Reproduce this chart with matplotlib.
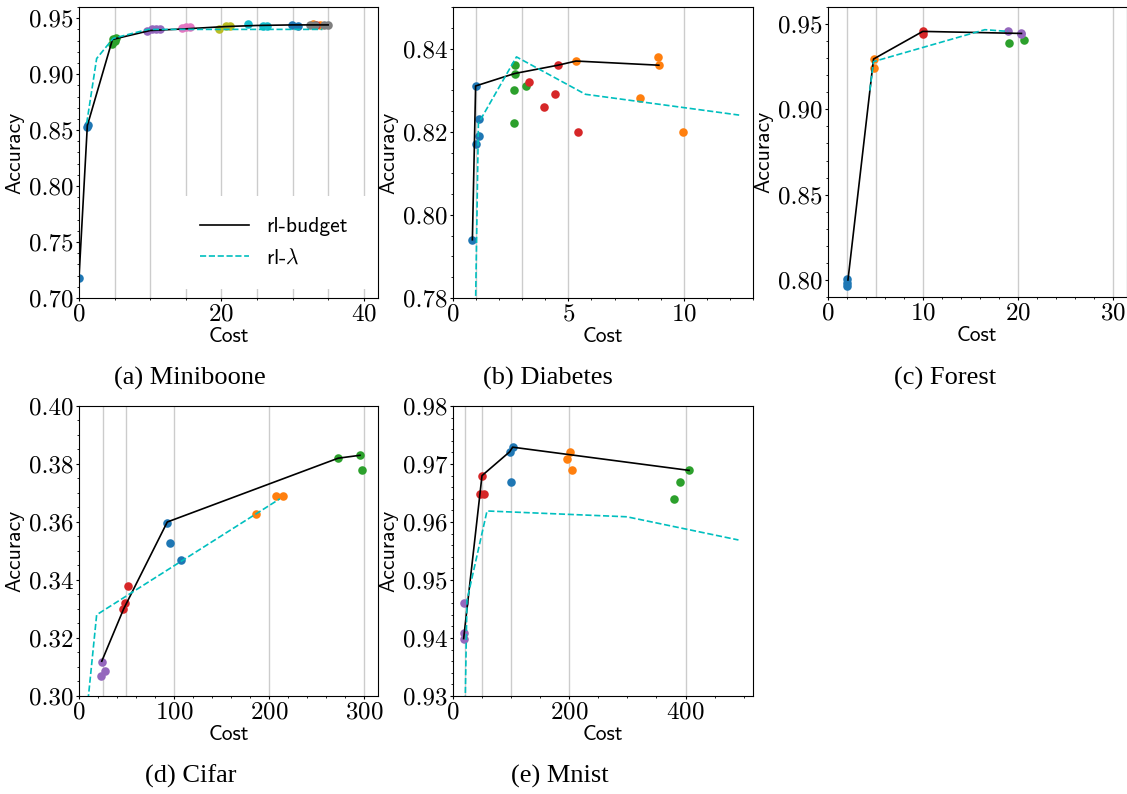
import numpy as np
import matplotlib
matplotlib.use("Agg")
import matplotlib.pyplot as plt
from matplotlib.ticker import MultipleLocator, AutoMinorLocator, FormatStrFormatter

plt.rcParams['mathtext.fontset'] = 'cm'
plt.rcParams['axes.formatter.use_mathtext'] = True

TICK_FONT = 'cmr10'
LABEL_FONT = 'cmss10'
CAPTION_FONT = 'Liberation Serif'

# ---- Miniboone ----
mini_pts_x = [[0.0, 1.1, 1.2], [4.6, 4.8, 5.0, 5.2], [9.6, 10.2, 10.8, 11.4],
              [14.4, 15.0, 15.6], [19.6, 20.6, 21.2], [23.8, 25.8, 26.4],
              [29.9, 30.7], [32.8, 33.8], [33.3], [32.4, 33.2, 34.4, 35.0]]
mini_pts_y = [[0.718, 0.853, 0.855], [0.927, 0.931, 0.930, 0.932], [0.939, 0.940, 0.940, 0.940],
              [0.941, 0.942, 0.942], [0.940, 0.943, 0.943], [0.9445, 0.943, 0.943],
              [0.944, 0.943], [0.9445, 0.944], [0.9435], [0.944, 0.944, 0.944, 0.944]]
mini_colors = ['C0', 'C2', 'C4', 'C6', 'C8', 'C9', 'C0', 'C1', 'C3', 'C7']
mini_budget_x = [0.0, 1.17, 4.7, 10, 15, 20.5, 25, 30, 35]
mini_budget_y = [0.718, 0.854, 0.931, 0.939, 0.9405, 0.9425, 0.9435, 0.944, 0.944]
mini_lambda_x = [1.08, 2.48, 4.8, 9.7, 34.2]
mini_lambda_y = [0.856, 0.914, 0.932, 0.940, 0.940]
mini_grid = [5, 10, 15, 20, 25, 30, 35, 40]

# ---- Diabetes ----
dia_pts_x = [[0.84, 0.98, 0.98, 1.11, 1.14], [5.33, 8.09, 8.90, 8.92, 9.97],
             [2.67, 2.67, 2.66, 2.66, 3.16], [3.31, 3.93, 4.42, 4.55, 5.40]]
dia_pts_y = [[0.794, 0.831, 0.817, 0.823, 0.819], [0.837, 0.828, 0.838, 0.836, 0.820],
             [0.836, 0.834, 0.830, 0.822, 0.831], [0.832, 0.826, 0.829, 0.836, 0.820]]
dia_colors = ['C0', 'C1', 'C2', 'C3']
dia_budget_x = [0.84, 0.98, 2.67, 4.55, 5.33, 8.92]
dia_budget_y = [0.794, 0.831, 0.834, 0.836, 0.837, 0.836]
dia_lambda_x = [0.96, 1.10, 2.75, 5.74, 12.4]
dia_lambda_y = [0.772, 0.822, 0.838, 0.829, 0.824]
dia_grid = [1, 3, 5, 10]

# ---- Forest ----
for_pts_x = [[2.0, 2.0, 2.0], [4.79, 4.86], [19.06, 20.6], [9.97, 9.97], [18.95, 20.35, 20.3]]
for_pts_y = [[0.8008, 0.7985, 0.7965], [0.9295, 0.9242], [0.9387, 0.9406], [0.9457, 0.944],
             [0.9457, 0.9445, 0.944]]
for_colors = ['C0', 'C1', 'C2', 'C3', 'C4']
for_budget_x = [2.1, 4.79, 9.97, 20.35]
for_budget_y = [0.800, 0.9295, 0.9457, 0.9445]
for_lambda_x = [4.4, 4.79, 16.5, 18.95]
for_lambda_y = [0.911, 0.928, 0.9467, 0.9457]
for_grid = [2, 5, 10, 20, 30]

# ---- Cifar ----
cif_pts_x = [[93, 95.8, 107.4], [186.3, 207.4, 214.4], [273, 295.8, 298.6],
             [51.9, 48.4, 46.7], [23.9, 22.8, 27.4]]
cif_pts_y = [[0.3597, 0.3528, 0.3468], [0.3628, 0.3688, 0.3688], [0.3819, 0.3830, 0.3778],
             [0.3379, 0.3319, 0.3299], [0.3118, 0.3069, 0.3087]]
cif_colors = ['C0', 'C1', 'C2', 'C3', 'C4']
cif_budget_x = [24, 47, 93, 273, 296]
cif_budget_y = [0.312, 0.330, 0.360, 0.382, 0.383]
cif_lambda_x = [9.5, 18.6, 211.6]
cif_lambda_y = [0.2985, 0.328, 0.368]
cif_grid = [25, 50, 100, 200, 300]

# ---- Mnist ----
mni_pts_x = [[97.4, 102.6, 100.3], [201.7, 196, 204.6], [406, 390.8, 380.5],
             [49.9, 47, 52.7], [18.3, 18.3, 18.3]]
mni_pts_y = [[0.9721, 0.9729, 0.9669], [0.972, 0.9709, 0.9689], [0.9689, 0.9669, 0.9639],
             [0.9679, 0.9649, 0.9649], [0.946, 0.9408, 0.9399]]
mni_colors = ['C0', 'C1', 'C2', 'C3', 'C4']
mni_budget_x = [18.3, 49.9, 97.4, 102.6, 406]
mni_budget_y = [0.9399, 0.968, 0.9721, 0.9729, 0.9689]
mni_lambda_x = [21, 24, 58.5, 299, 491]
mni_lambda_y = [0.929, 0.9465, 0.9619, 0.9609, 0.9569]
mni_grid = [20, 50, 100, 200, 400]


def draw_panel(ax, pts_x, pts_y, colors, bx, by, lx, ly, grid, xlim, ylim, xstep, ystep):
    for g in grid:
        ax.axvline(g, color='0.8', lw=1.0, zorder=0)
    for px, py, c in zip(pts_x, pts_y, colors):
        ax.scatter(px, py, s=38, color=c, linewidths=0, zorder=2)
    ax.plot(bx, by, '-', color='k', lw=1.2, zorder=3, label='rl-budget')
    ax.plot(lx, ly, '--', color='c', lw=1.2, zorder=3, label=r'rl-$\lambda$')
    ax.set_xlim(*xlim)
    ax.set_ylim(*ylim)
    ax.xaxis.set_major_locator(MultipleLocator(xstep))
    ax.yaxis.set_major_locator(MultipleLocator(ystep))
    ax.xaxis.set_minor_locator(AutoMinorLocator())
    ax.yaxis.set_minor_locator(AutoMinorLocator())
    ax.yaxis.set_major_formatter(FormatStrFormatter('%.2f'))
    ax.tick_params(which='major', length=2.5, pad=1.5, labelsize=18)
    ax.tick_params(which='minor', length=1.5)
    for t in ax.get_xticklabels() + ax.get_yticklabels():
        t.set_fontfamily(TICK_FONT)
    ax.set_xlabel('Cost', fontfamily=LABEL_FONT, fontsize=15.5, labelpad=1)
    ax.set_ylabel('Accuracy', fontfamily=LABEL_FONT, fontsize=15.5, labelpad=3)


fig = plt.figure(figsize=(11.27, 7.94), dpi=100)
W, H = 1127.0, 794.0


def add_ax(left, top, right, bottom):
    return fig.add_axes([left / W, 1 - bottom / H, (right - left) / W, (bottom - top) / H])


ax_a = add_ax(79, 7, 378, 298)
ax_b = add_ax(453, 7, 753, 298)
ax_c = add_ax(828, 7, 1126.5, 297)
ax_d = add_ax(79, 406, 378, 696)
ax_e = add_ax(453, 406, 753, 696)

draw_panel(ax_a, mini_pts_x, mini_pts_y, mini_colors, mini_budget_x, mini_budget_y,
           mini_lambda_x, mini_lambda_y, mini_grid, (0, 42), (0.70, 0.96), 20, 0.05)
draw_panel(ax_b, dia_pts_x, dia_pts_y, dia_colors, dia_budget_x, dia_budget_y,
           dia_lambda_x, dia_lambda_y, dia_grid, (0, 13), (0.78, 0.85), 5, 0.02)
draw_panel(ax_c, for_pts_x, for_pts_y, for_colors, for_budget_x, for_budget_y,
           for_lambda_x, for_lambda_y, for_grid, (0, 31.4), (0.79, 0.96), 10, 0.05)
draw_panel(ax_d, cif_pts_x, cif_pts_y, cif_colors, cif_budget_x, cif_budget_y,
           cif_lambda_x, cif_lambda_y, cif_grid, (0, 315), (0.30, 0.40), 100, 0.02)
draw_panel(ax_e, mni_pts_x, mni_pts_y, mni_colors, mni_budget_x, mni_budget_y,
           mni_lambda_x, mni_lambda_y, mni_grid, (0, 516), (0.93, 0.98), 200, 0.01)

leg = ax_a.legend(loc='lower right', prop={'family': LABEL_FONT, 'size': 15.5},
                  frameon=True, framealpha=1, edgecolor='none', fancybox=False,
                  borderpad=1.0, borderaxespad=0.4, handlelength=2.3,
                  handletextpad=0.8, labelspacing=0.55)

captions = ['(a) Miniboone', '(b) Diabetes', '(c) Forest', '(d) Cifar', '(e) Mnist']
cap_x = [190, 548, 945, 191, 560]
cap_y = [378, 378, 378, 776, 776]
for txt, cx, cy in zip(captions, cap_x, cap_y):
    fig.text(cx / W, 1 - cy / H, txt, ha='center', va='center',
             fontfamily=CAPTION_FONT, fontsize=19)

fig.savefig('out.png', dpi=100)
